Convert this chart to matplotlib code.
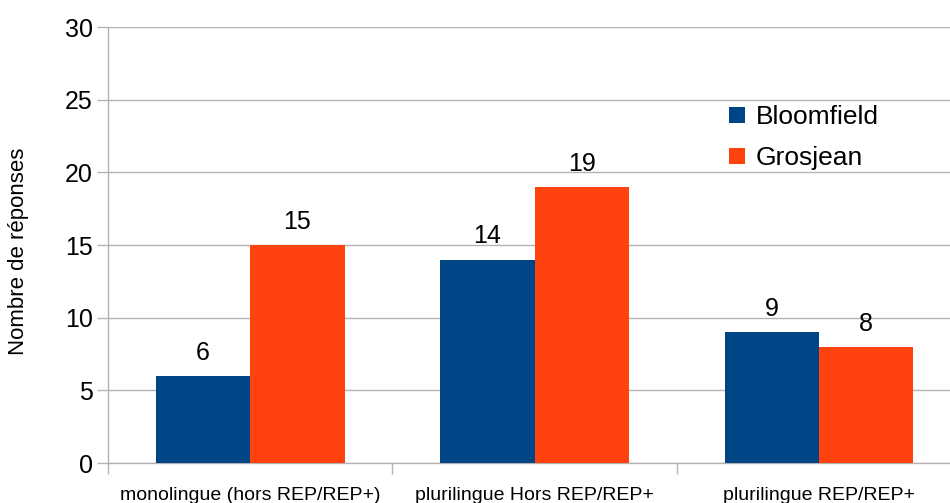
import numpy as np
import matplotlib.pyplot as plt

plt.rcParams['font.family'] = ['Liberation Sans', 'DejaVu Sans']

categories = ['monolingue (hors REP/REP+)', 'plurilingue Hors REP/REP+', 'plurilingue REP/REP+']
bloomfield = [6, 14, 9]
grosjean = [15, 19, 8]
series_names = ['Bloomfield', 'Grosjean']

blue = '#004586'
orange = '#ff420e'
grey = '#b3b3b3'

fig = plt.figure(figsize=(9.5, 5.03), dpi=100)
ax = fig.add_axes([0.1137, 0.0795, 0.886, 0.8668])

x = np.arange(len(categories))
w = 0.332

b1 = ax.bar(x - w/2, bloomfield, w, color=blue, label=series_names[0], zorder=3)
b2 = ax.bar(x + w/2, grosjean, w, color=orange, label=series_names[1], zorder=3)

for bars in (b1, b2):
    for r in bars:
        ax.annotate(str(int(r.get_height())), (r.get_x() + r.get_width()/2, r.get_height()),
                    xytext=(0, 8), textcoords='offset points', ha='center', va='bottom',
                    fontsize=18)

ax.set_yticks(np.arange(0, 31, 5))
ax.tick_params(axis='y', labelsize=18, length=8, color=grey, width=1, pad=3)
ax.yaxis.grid(True, color=grey, linewidth=1, zorder=0)

ax.set_xticks([-0.5, 0.5, 1.5, 2.5])
ax.set_xticklabels([])
ax.set_xticks(x, minor=True)
ax.set_xticklabels(categories, minor=True, fontsize=14)
ax.tick_params(axis='x', which='major', length=8, color=grey, width=1)
ax.tick_params(axis='x', which='minor', length=0, pad=17)

ax.set_ylim(0, 30)
ax.set_xlim(-0.5, 2.46)

for s in ['top', 'right']:
    ax.spines[s].set_visible(False)
for s in ['left', 'bottom']:
    ax.spines[s].set_color(grey)
    ax.spines[s].set_linewidth(1)

ax.set_ylabel('Nombre de réponses', fontsize=16)
ax.yaxis.set_label_coords(-0.094, 0.485)

ax.legend(loc='upper left', bbox_to_anchor=(0.71, 0.875), frameon=False, fontsize=19,
          handlelength=0.6, handleheight=0.6, handletextpad=0.4, labelspacing=0.65)

fig.savefig('out.png', dpi=100)
